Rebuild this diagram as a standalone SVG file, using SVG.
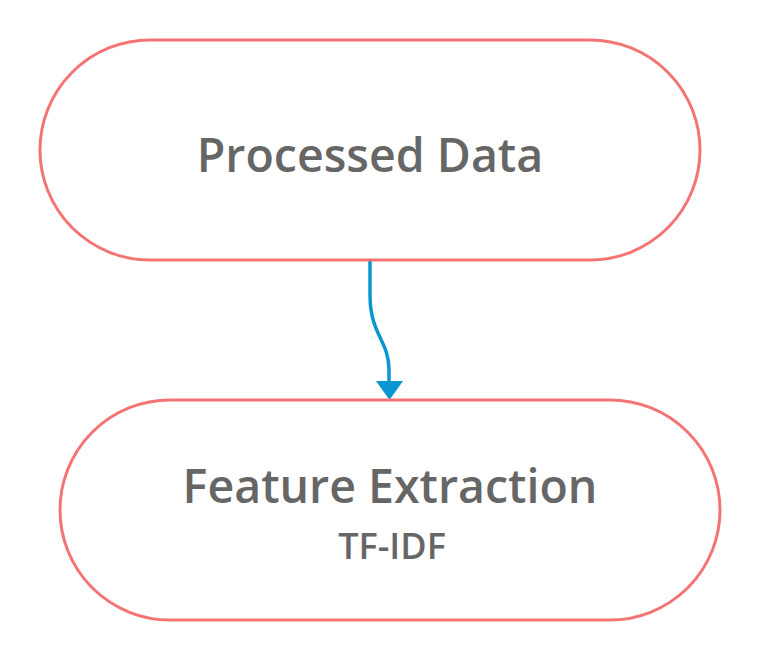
<svg xmlns="http://www.w3.org/2000/svg" width="761" height="661" viewBox="0 0 761 661">
<defs>
<style>
.node{fill:#ffffff;stroke:#f47474;stroke-width:3}
.t{font-family:"Open Sans","Noto Sans",sans-serif;font-weight:600;fill:#666666;text-anchor:middle}
.edge{fill:none;stroke:#0a96d0;stroke-width:3.5}
</style>
</defs>
<rect width="761" height="661" fill="#ffffff"/>
<g id="edges">
<path class="edge" d="M370,261 L370,295 C370,335 389,340 389,370 L389,382"/>
<path d="M376,381 L403,381 L389.5,400 Z" fill="#0a96d0"/>
</g>
<g id="processed-data">
<rect class="node" x="40" y="40" width="660" height="220" rx="110" ry="110"/>
<text class="t" x="370" y="172" font-size="46.5">Processed Data</text>
</g>
<g id="feature-extraction">
<rect class="node" x="60" y="400" width="660" height="220" rx="110" ry="110"/>
<text class="t" x="390" y="503" font-size="46.5">Feature Extraction</text>
<text class="t" x="392" y="559" font-size="36">TF-IDF</text>
</g>
</svg>
